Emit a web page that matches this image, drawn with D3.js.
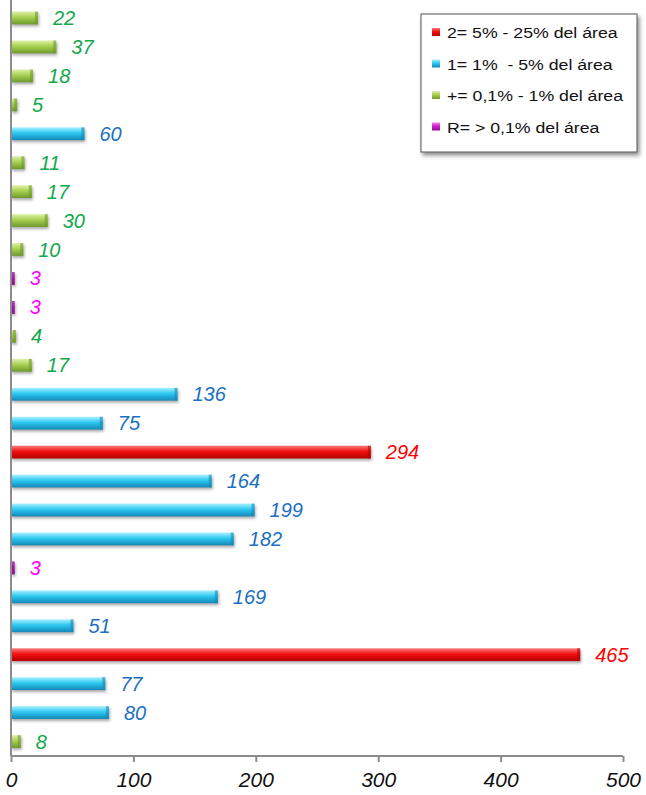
<!DOCTYPE html>
<html>
<head>
<meta charset="utf-8">
<script src="https://cdn.jsdelivr.net/npm/d3@7"></script>
<style>
  body { margin: 0; background: #fff; }
  svg { font-family: "Liberation Sans", Arial, sans-serif; }
</style>
</head>
<body>
<svg id="chart" width="646" height="795"></svg>
<script>
// values top to bottom
var values = [22, 37, 18, 5, 60, 11, 17, 30, 10, 3, 3, 4, 17, 136, 75, 294, 164, 199, 182, 3, 169, 51, 465, 77, 80, 8];
// class of each bar: "2", "1", "+", "R"
var classes = ["+", "+", "+", "+", "1", "+", "+", "+", "+", "R", "R", "+", "+", "1", "1", "2", "1", "1", "1", "R", "1", "1", "2", "1", "1", "+"];
var legendKeys = ["2", "1", "+", "R"];
var legendLabels = ["2= 5% - 25% del área", "1= 1%  - 5% del área", "+= 0,1% - 1% del área", "R= > 0,1% del área"];
var xTicks = [0, 100, 200, 300, 400, 500];

var colors = {
  "2": { top: "#ff7a7a", mid: "#f01010", bot: "#b80000", label: "#ff0000" },
  "1": { top: "#a8f0ff", mid: "#2cc8f0", bot: "#1488b8", label: "#1a6fc0" },
  "+": { top: "#e0f0a8", mid: "#a8d050", bot: "#6e9a2c", label: "#12a84a" },
  "R": { top: "#f080f0", mid: "#d020d0", bot: "#901090", label: "#ff00ff" }
};

var svg = d3.select("#chart");
var defs = svg.append("defs");

legendKeys.forEach(function(k, i) {
  var g = defs.append("linearGradient")
    .attr("id", "grad" + i)
    .attr("x1", 0).attr("y1", 0).attr("x2", 0).attr("y2", 1);
  g.append("stop").attr("offset", "0%").attr("stop-color", colors[k].top);
  g.append("stop").attr("offset", "45%").attr("stop-color", colors[k].mid);
  g.append("stop").attr("offset", "100%").attr("stop-color", colors[k].bot);
});

var shadow = defs.append("filter").attr("id", "shadow")
  .attr("x", "-10%").attr("y", "-10%").attr("width", "130%").attr("height", "140%");
shadow.append("feDropShadow").attr("dx", 2).attr("dy", 3).attr("stdDeviation", 2)
  .attr("flood-color", "#000").attr("flood-opacity", 0.45);

var xScale = d3.scaleLinear().domain([0, 500]).range([11, 623]);
var yScale = d3.scaleBand()
  .domain(d3.range(values.length))
  .range([3.5, 756])
  .paddingInner(0.56)
  .paddingOuter(0.28);

// bars
var bars = svg.append("g").attr("id", "bars");
bars.selectAll("rect.bar")
  .data(values)
  .enter()
  .append("rect")
  .attr("class", "bar")
  .attr("x", xScale(0))
  .attr("y", function(d, i) { return yScale(i); })
  .attr("width", function(d) { return xScale(d) - xScale(0); })
  .attr("height", yScale.bandwidth())
  .style("fill", function(d, i) { return "url(#grad" + legendKeys.indexOf(classes[i]) + ")"; })
  .style("filter", "drop-shadow(1px 2px 1.5px rgba(0,0,0,0.35))");

// bevelled end cap
bars.selectAll("rect.cap")
  .data(values)
  .enter()
  .append("rect")
  .attr("class", "cap")
  .attr("x", function(d) { return Math.max(xScale(0), xScale(d) - 3); })
  .attr("y", function(d, i) { return yScale(i); })
  .attr("width", function(d) { return Math.min(3, xScale(d) - xScale(0)); })
  .attr("height", yScale.bandwidth())
  .style("fill", function(d, i) { return colors[classes[i]].bot; })
  .style("opacity", 0.6);

// value labels
svg.append("g").selectAll("text")
  .data(values)
  .enter()
  .append("text")
  .attr("x", function(d) { return xScale(d) + 15; })
  .attr("y", function(d, i) { return yScale(i) + yScale.bandwidth() / 2 + 7; })
  .style("font-size", "20px")
  .style("font-style", "italic")
  .style("fill", function(d, i) { return colors[classes[i]].label; })
  .text(function(d) { return d; });

// axes
var xAxis = d3.axisBottom(xScale).tickValues(xTicks).tickSize(6).tickFormat(d3.format("d"));
var gx = svg.append("g")
  .attr("id", "xAxis")
  .attr("transform", "translate(0,756)")
  .call(xAxis);
gx.select(".domain").attr("stroke", "#8c8c8c").attr("stroke-width", 2).attr("d", "M11,0H623");
gx.selectAll(".tick line").attr("stroke", "#8c8c8c").attr("stroke-width", 2);
gx.selectAll(".tick text")
  .attr("y", 16)
  .style("font-size", "21px")
  .style("font-style", "italic")
  .style("font-family", "'Liberation Sans', Arial, sans-serif")
  .attr("fill", "#111");

svg.append("line")
  .attr("x1", xScale(0)).attr("x2", xScale(0))
  .attr("y1", 0).attr("y2", 756)
  .attr("stroke", "#8c8c8c").attr("stroke-width", 2);

// legend
var legend = svg.append("g").attr("id", "legend");
legend.append("rect")
  .attr("x", 421).attr("y", 14)
  .attr("width", 216).attr("height", 138)
  .attr("fill", "#fff")
  .attr("stroke", "#555")
  .attr("stroke-width", 1)
  .attr("filter", "url(#shadow)");

var items = legend.selectAll("g.item")
  .data(legendKeys)
  .enter()
  .append("g")
  .attr("class", "item")
  .attr("transform", function(d, i) { return "translate(0," + (32 + i * 31.5) + ")"; });

items.append("rect")
  .attr("x", 432).attr("y", -4)
  .attr("width", 8).attr("height", 8)
  .style("fill", function(d, i) { return "url(#grad" + i + ")"; });

items.append("text")
  .attr("transform", "translate(447,6) scale(1.18,1)")
  .style("font-size", "15px")
  .style("white-space", "pre")
  .style("fill", "#111")
  .text(function(d, i) { return legendLabels[i]; });
</script>
</body>
</html>
